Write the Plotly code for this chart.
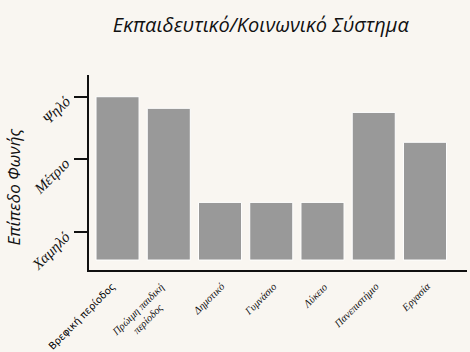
import plotly.graph_objects as go

categories = ["Βρεφική περίοδος", "Πρώιμη παιδική<br>περίοδος", "Δημοτικό", "Γυμνάσιο",
              "Λύκειο", "Πανεπιστήμιο", "Εργασία"]
values = [100, 92.9, 35.3, 35.3, 35.3, 90.4, 72.1]
level_vals = [17.0, 61.7, 100]
level_labels = ["Χαμηλό", "Μέτριο", "Ψηλό"]

bg = "#f9f6f1"
fig = go.Figure(go.Bar(
    x=list(range(len(categories))), y=values,
    marker=dict(color="#999999", line=dict(color="#ffffff", width=1)),
    width=0.84,
))

fig.update_layout(
    width=470, height=352,
    paper_bgcolor=bg, plot_bgcolor=bg,
    margin=dict(l=89, r=3, t=75, b=82),
    showlegend=False,
    title=dict(text="<i>Εκπαιδευτικό/Κοινωνικό Σύστημα</i>",
               font=dict(family="Open Sans", size=20, color="#111111"),
               x=0.555, xanchor="center", y=0.93, yanchor="middle"),
    font=dict(family="Liberation Serif", color="#111111"),
)
fig.update_xaxes(
    range=[-0.557, 6.82], tickmode="array", tickvals=list(range(len(categories))),
    showticklabels=False,
    showline=True, linecolor="#111111", linewidth=2, showgrid=False, zeroline=False,
    ticks="", automargin=False,
)
fig.update_yaxes(
    range=[-6.1, 113.3], tickmode="array", tickvals=level_vals, showticklabels=False,
    showline=True, linecolor="#111111", linewidth=2, showgrid=False, zeroline=False,
    ticks="outside", ticklen=13, tickwidth=2, tickcolor="#111111", automargin=False,
)
for i, c in enumerate(categories):
    if i == 0:
        txt = c
        fnt = dict(family="DejaVu Sans", size=10, color="#000000")
        xs = 2
    else:
        txt = "<i>" + c + "</i>"
        fnt = dict(family="Liberation Serif", size=10.5, color="#111111")
        xs = 10
    fig.add_annotation(
        text=txt, xref="x", yref="paper", x=i, y=0,
        xanchor="right", yanchor="top", xshift=xs, yshift=-8, textangle=-45,
        showarrow=False, font=fnt,
    )
for v, t in zip(level_vals, level_labels):
    fig.add_annotation(
        text="<i>" + t + "</i>", xref="paper", yref="y", x=-0.034, y=v,
        xanchor="right", yanchor="top", yshift=7, textangle=-45, showarrow=False,
        font=dict(family="Liberation Serif", size=15, color="#111111"),
    )
fig.add_annotation(
    text="<i>Επίπεδο Φωνής</i>", xref="paper", yref="paper",
    x=-0.2, y=0.425, textangle=-90, showarrow=False,
    font=dict(family="Open Sans", size=17, color="#111111"),
    xanchor="center", yanchor="middle",
)
fig.write_html("out.html")
